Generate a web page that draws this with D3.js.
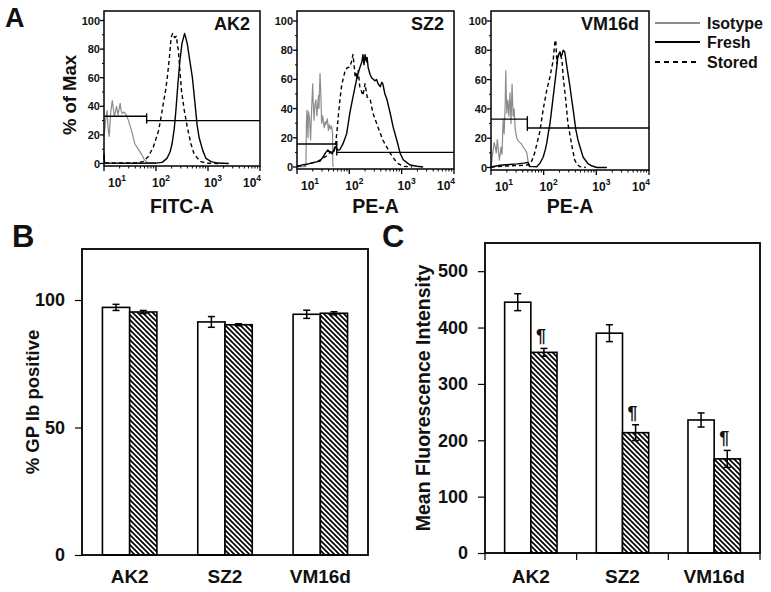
<!DOCTYPE html>
<html><head><meta charset="utf-8">
<script src="https://cdn.jsdelivr.net/npm/d3@7"></script>
<style>
body{margin:0;background:#fff}
svg{display:block}
text{font-family:"Liberation Sans",Arial,Helvetica,sans-serif;font-weight:bold;fill:#111}
</style>
</head><body>
<svg id="fig" width="771" height="592"></svg>
<script>
// ---------------- DATA ----------------
const samples = ["AK2", "SZ2", "VM16d"];
const histSeries = ["Isotype", "Fresh", "Stored"];
const histXLabels = ["FITC-A", "PE-A", "PE-A"];
const xTickExps = [1, 2, 3, 4];
const yTickPct = [0, 20, 40, 60, 80, 100];

// histogram points: [log10 intensity, % of max]
const ak2Iso = [[1.00,20],[1.02,26],[1.04,33],[1.06,37],[1.08,24],[1.10,19],[1.13,36],[1.16,44],[1.18,38],[1.20,33],[1.22,36],[1.24,40],[1.27,34],[1.29,38],[1.31,42],[1.33,37],[1.35,35],[1.39,36],[1.43,34],[1.47,30],[1.53,23],[1.59,14],[1.65,10.6],[1.73,6],[1.78,2.5],[1.84,0.6],[1.92,0.3],[2.0,0]];
const ak2Fresh = [[1.00,7],[1.01,0.4],[1.6,0.2],[2.0,0.3],[2.12,0.8],[2.21,3.6],[2.27,8],[2.31,14],[2.35,24],[2.38,36],[2.42,55],[2.46,72],[2.50,84],[2.55,91],[2.60,84],[2.65,72],[2.70,60],[2.75,42],[2.79,27],[2.83,18],[2.90,9],[2.96,3.6],[3.06,1.3],[3.19,0.3],[3.4,0]];
const ak2Stored = [[1.00,5],[1.01,0.4],[1.6,0.3],[1.75,1.3],[1.85,4.7],[1.95,11.7],[2.05,23],[2.11,35],[2.14,42],[2.18,50],[2.22,61],[2.26,75],[2.29,88],[2.32,91],[2.36,88],[2.39,89],[2.43,79],[2.46,65],[2.49,51],[2.54,38],[2.60,25.7],[2.67,14],[2.73,7],[2.80,3.6],[2.86,1.3],[2.99,0.2],[3.2,0]];

const sz2Iso = [[1.00,0.3],[1.17,0.3],[1.18,30],[1.19,39],[1.21,20],[1.22,38],[1.24,33],[1.26,18.5],[1.28,40],[1.30,57],[1.31,44],[1.325,32],[1.34,42],[1.36,46],[1.38,35],[1.41,49],[1.42,40],[1.44,64],[1.46,45],[1.47,30],[1.49,35],[1.52,27],[1.54,31],[1.55,29],[1.58,33],[1.60,25],[1.62,29],[1.64,26],[1.66,28],[1.68,23],[1.685,2],[1.69,0]];
const sz2Fresh = [[1.00,0.5],[1.11,1.5],[1.20,2],[1.31,3],[1.44,4],[1.50,7],[1.54,9.5],[1.59,11.6],[1.64,10],[1.67,9],[1.73,14],[1.78,11.5],[1.82,12],[1.88,16],[1.95,23],[2.01,37],[2.07,48],[2.15,62],[2.20,68],[2.24,72],[2.26,77],[2.28,70],[2.30,77],[2.33,72],[2.34,75],[2.36,68],[2.40,63],[2.43,61],[2.49,59],[2.52,60],[2.55,57],[2.59,55],[2.62,58],[2.64,57],[2.68,50],[2.72,46],[2.78,37],[2.84,27],[2.91,18],[2.97,9.5],[3.03,5],[3.10,3],[3.16,1.4],[3.29,0.5],[3.41,0]];
const sz2Stored = [[1.00,0.5],[1.11,1],[1.20,2],[1.31,3],[1.40,4],[1.50,6],[1.58,8],[1.64,10.5],[1.69,9.5],[1.73,13],[1.76,23],[1.79,35],[1.82,46],[1.85,55],[1.88,60],[1.92,66],[1.96,68],[2.01,68.5],[2.04,72],[2.07,77],[2.09,70],[2.11,62],[2.13,64],[2.15,60],[2.17,66],[2.20,55],[2.23,52],[2.26,49],[2.30,57],[2.34,48],[2.40,46],[2.45,37],[2.55,27],[2.64,18.5],[2.78,9.5],[2.91,2.7],[3.03,0.5],[3.2,0]];

const vm16Iso = [[1.00,0],[1.02,6],[1.04,12],[1.06,17],[1.08,14],[1.10,10],[1.12,19],[1.14,12],[1.16,5],[1.19,14],[1.21,9],[1.23,33],[1.25,23],[1.27,44],[1.28,66],[1.30,37],[1.32,46],[1.34,35],[1.36,51],[1.38,30],[1.40,57],[1.42,35],[1.44,40],[1.46,26],[1.49,20],[1.52,18],[1.55,17],[1.58,16],[1.61,14],[1.65,12],[1.68,10],[1.70,5],[1.72,1],[1.74,0]];
const vm16Fresh = [[1.00,0.3],[1.10,1],[1.17,1.5],[1.35,2],[1.50,2.5],[1.62,3],[1.70,3.5],[1.74,0.8],[1.87,0.5],[1.93,3],[1.99,7],[2.03,12],[2.06,17],[2.09,24],[2.12,30],[2.15,39],[2.18,48],[2.22,60],[2.25,69],[2.27,76],[2.31,79],[2.33,76],[2.35,77],[2.37,80],[2.40,79],[2.44,69],[2.47,62],[2.50,55],[2.53,47],[2.56,39.5],[2.61,26],[2.65,19],[2.69,14],[2.75,7],[2.84,2.7],[2.92,1],[3.01,0],[3.2,0]];
const vm16Stored = [[1.00,0.3],[1.3,1],[1.6,1.5],[1.74,2],[1.78,5],[1.83,10],[1.87,16],[1.93,25],[1.99,39.5],[2.06,53],[2.12,62],[2.18,73],[2.21,85],[2.23,87],[2.25,71],[2.29,78],[2.33,76],[2.35,72],[2.37,62],[2.42,46],[2.46,30],[2.50,22],[2.54,14],[2.59,5],[2.64,2],[2.69,0.5],[2.8,0]];

// gate markers: boundary (log10), % level left of boundary, % level right of boundary
const gateLog = [1.82, 1.76, 1.69];
const gateLeftPct = [33, 15.8, 33];
const gateRightPct = [30, 10, 27];

// panel B: % GP Ib positive
const gpibTicks = [0, 50, 100];
const gpibFresh = [97.1, 91.4, 94.4];
const gpibFreshErr = [1.2, 2.1, 1.6];
const gpibStored = [95.3, 90.3, 94.8];
const gpibStoredErr = [0.6, 0.4, 0.6];

// panel C: Mean Fluorescence Intensity
const mfiTicks = [0, 100, 200, 300, 400, 500];
const mfiFresh = [445, 390, 236];
const mfiFreshErr = [15, 15, 12.5];
const mfiStored = [356, 213.5, 167];
const mfiStoredErr = [7, 14, 15];
const mfiMarks = ["¶", "¶", "¶"];

// ---------------- DRAW ----------------
const svg = d3.select("#fig");
const histData = [[ak2Iso, ak2Fresh, ak2Stored],[sz2Iso, sz2Fresh, sz2Stored],[vm16Iso, vm16Fresh, vm16Stored]];
const boxesA = [
  {l:104, t:11, r:260, b:166, y0:163.5, y100:20.5},
  {l:297, t:11, r:454, b:169, y0:167, y100:21},
  {l:491, t:11, r:649, b:170, y0:167.5, y100:21}
];
const labelOffsets = [13, 5, 5, -8];
const histStyle = [
  {stroke:"#8c8c8c", w:1.2, dash:null},
  {stroke:"#000", w:1.4, dash:null},
  {stroke:"#000", w:1.4, dash:"4,3"}
];

boxesA.forEach((bx, i) => {
  const g = svg.append("g");
  const x = d3.scaleLog().domain([10, 10000]).range([bx.l, bx.r]);
  const y = d3.scaleLinear().domain([0, 100]).range([bx.y0, bx.y100]);
  const line = d3.line().x(d => x(Math.pow(10, d[0]))).y(d => y(d[1]));
  [0, 2, 1].forEach(s => {
    g.append("path").datum(histData[i][s]).attr("d", line)
      .attr("fill", "none").attr("stroke", histStyle[s].stroke)
      .attr("stroke-width", histStyle[s].w)
      .attr("stroke-dasharray", histStyle[s].dash)
      .attr("stroke-linejoin", "round");
  });
  // gate marker
  const gx = x(Math.pow(10, gateLog[i]));
  const yl = y(gateLeftPct[i]), yr = y(gateRightPct[i]);
  g.append("line").attr("x1", bx.l).attr("x2", gx).attr("y1", yl).attr("y2", yl).attr("stroke", "#000").attr("stroke-width", 1.4);
  g.append("line").attr("x1", gx).attr("x2", bx.r).attr("y1", yr).attr("y2", yr).attr("stroke", "#000").attr("stroke-width", 1.4);
  g.append("line").attr("x1", gx).attr("x2", gx).attr("y1", Math.min(yl, yr) - 3).attr("y2", Math.max(yl, yr) + 3).attr("stroke", "#000").attr("stroke-width", 1.4);
  // frame
  g.append("rect").attr("x", bx.l).attr("y", bx.t).attr("width", bx.r - bx.l).attr("height", bx.b - bx.t)
    .attr("fill", "none").attr("stroke", "#000").attr("stroke-width", 1.5);
  // x minor + major ticks
  const minor = [];
  for (let k = 1; k < 4; k++) for (let m = 2; m <= 9; m++) minor.push(m * Math.pow(10, k));
  g.selectAll(null).data(minor).enter().append("line")
    .attr("x1", d => x(d)).attr("x2", d => x(d)).attr("y1", bx.b).attr("y2", bx.b + 2.5)
    .attr("stroke", "#000").attr("stroke-width", 1);
  g.selectAll(null).data(xTickExps).enter().append("line")
    .attr("x1", d => x(Math.pow(10, d))).attr("x2", d => x(Math.pow(10, d))).attr("y1", bx.b).attr("y2", bx.b + 5)
    .attr("stroke", "#000").attr("stroke-width", 1.3);
  const xl = g.selectAll(null).data(xTickExps).enter().append("text")
    .attr("x", (d, j) => x(Math.pow(10, d)) + labelOffsets[j]).attr("y", bx.b + 21)
    .attr("text-anchor", "middle").attr("font-size", 12);
  xl.append("tspan").text("10");
  xl.append("tspan").attr("dy", -6).attr("font-size", 8.5).text(d => d);
  // y ticks
  const yMinor = d3.range(0, 101, 10).filter(v => v % 20 !== 0);
  g.selectAll(null).data(yMinor).enter().append("line")
    .attr("x1", bx.l - 2).attr("x2", bx.l).attr("y1", d => y(d)).attr("y2", d => y(d))
    .attr("stroke", "#000").attr("stroke-width", 1);
  g.selectAll(null).data(yTickPct).enter().append("line")
    .attr("x1", bx.l - 4).attr("x2", bx.l).attr("y1", d => y(d)).attr("y2", d => y(d))
    .attr("stroke", "#000").attr("stroke-width", 1.3);
  g.selectAll(null).data(yTickPct).enter().append("text")
    .attr("x", bx.l - 4).attr("y", d => y(d) + 4).attr("text-anchor", "end").attr("font-size", 11)
    .text(d => d);
  g.append("text").attr("x", bx.r - 10).attr("y", 30).attr("text-anchor", "end").attr("font-size", 18).text(samples[i]);
  g.append("text").attr("x", (bx.l + bx.r) / 2).attr("y", 213).attr("text-anchor", "middle").attr("font-size", 19.5).text(histXLabels[i]);
});

svg.append("text").attr("transform", "translate(76,95) rotate(-90)").attr("text-anchor", "middle").attr("font-size", 18.5).text("% of Max");

// legend
const legY = [23, 42, 62];
histSeries.forEach((s, i) => {
  svg.append("line").attr("x1", 655).attr("x2", 700).attr("y1", legY[i]).attr("y2", legY[i])
    .attr("stroke", histStyle[i].stroke).attr("stroke-width", 2.2)
    .attr("stroke-dasharray", i === 2 ? "5,4" : null);
  svg.append("text").attr("x", 707).attr("y", legY[i] + 6).attr("font-size", 16).text(s);
});

// panel letters
svg.append("text").attr("x", 5).attr("y", 27).attr("font-size", 27).text("A");
svg.append("text").attr("x", 12).attr("y", 247).attr("font-size", 31).text("B");
svg.append("text").attr("x", 382).attr("y", 247).attr("font-size", 31).text("C");

// hatch pattern
const defs = svg.append("defs");
const pat = defs.append("pattern").attr("id", "hatch").attr("patternUnits", "userSpaceOnUse")
  .attr("width", 5).attr("height", 5);
pat.append("rect").attr("width", 5).attr("height", 5).attr("fill", "#fff");
pat.append("path").attr("d", "M0,0 L5,5 M-1,4 L1,6 M4,-1 L6,1").attr("stroke", "#000").attr("stroke-width", 1.7);

function barPanel(cfg) {
  const g = svg.append("g");
  const x0 = d3.scaleBand().domain(samples).range([cfg.l, cfg.r]).padding(0);
  const x1 = d3.scaleBand().domain(["fresh", "stored"]).range([0, x0.bandwidth()]).paddingInner(0).paddingOuter(0.75);
  const y = d3.scaleLinear().domain(cfg.domain).range([cfg.b, cfg.t]);
  const series = [
    {key:"fresh", vals:cfg.fresh, errs:cfg.freshErr, fill:"#fff"},
    {key:"stored", vals:cfg.stored, errs:cfg.storedErr, fill:"url(#hatch)"}
  ];
  series.forEach(s => {
    samples.forEach((smp, j) => {
      const bx = x0(smp) + x1(s.key);
      const w = x1.bandwidth();
      g.append("rect").attr("x", bx).attr("y", y(s.vals[j])).attr("width", w).attr("height", y(0) - y(s.vals[j]))
        .attr("fill", s.fill).attr("stroke", "#000").attr("stroke-width", 1.6);
      const cx = bx + w / 2;
      const yt = y(s.vals[j] + s.errs[j]), yb = y(s.vals[j] - s.errs[j]);
      g.append("line").attr("x1", cx).attr("x2", cx).attr("y1", yt).attr("y2", yb).attr("stroke", "#000").attr("stroke-width", 1.5);
      [yt, yb].forEach(yy => g.append("line").attr("x1", cx - 3.5).attr("x2", cx + 3.5).attr("y1", yy).attr("y2", yy).attr("stroke", "#000").attr("stroke-width", 1.5));
      if (cfg.marks && s.key === "stored") {
        g.append("text").attr("x", cx - 3).attr("y", yt - 6).attr("text-anchor", "middle").attr("font-size", 18).text(cfg.marks[j]);
      }
    });
  });
  g.append("rect").attr("x", cfg.l).attr("y", cfg.t).attr("width", cfg.r - cfg.l).attr("height", cfg.b - cfg.t)
    .attr("fill", "none").attr("stroke", "#000").attr("stroke-width", 1.8);
  const ay = g.append("g").attr("transform", `translate(${cfg.l},0)`)
    .call(d3.axisLeft(y).tickValues(cfg.ticks).tickSize(7).tickPadding(10).tickFormat(d3.format("d")));
  ay.select(".domain").remove();
  ay.selectAll("line").attr("stroke", "#000").attr("stroke-width", 1.2);
  ay.selectAll("text").attr("font-size", 18).attr("font-family", null).attr("fill", "#111");
  if (cfg.bandTicks) {
    const bounds = samples.map(s => x0(s)).concat([cfg.r]);
    g.selectAll(null).data(bounds).enter().append("line")
      .attr("x1", d => d).attr("x2", d => d).attr("y1", cfg.b).attr("y2", cfg.b + 7)
      .attr("stroke", "#000").attr("stroke-width", 1.2);
  }
  g.selectAll(null).data(samples).enter().append("text")
    .attr("x", d => x0(d) + x0.bandwidth() / 2).attr("y", 583).attr("text-anchor", "middle").attr("font-size", 19).text(d => d);
  g.append("text").attr("transform", `translate(${cfg.labX},${(cfg.t + cfg.b) / 2}) rotate(-90)`)
    .attr("text-anchor", "middle").attr("font-size", cfg.labSize).text(cfg.label);
}

barPanel({l:82, r:368, t:249, b:555, domain:[0,120], ticks:gpibTicks,
  fresh:gpibFresh, freshErr:gpibFreshErr, stored:gpibStored, storedErr:gpibStoredErr,
  label:"% GP Ib positive", labX:39, labSize:18.5, bandTicks:false});
barPanel({l:485, r:760, t:243, b:553, domain:[0,550], ticks:mfiTicks,
  fresh:mfiFresh, freshErr:mfiFreshErr, stored:mfiStored, storedErr:mfiStoredErr, marks:mfiMarks,
  label:"Mean Fluorescence Intensity", labX:430, labSize:19.5, bandTicks:true});
</script>
</body></html>
